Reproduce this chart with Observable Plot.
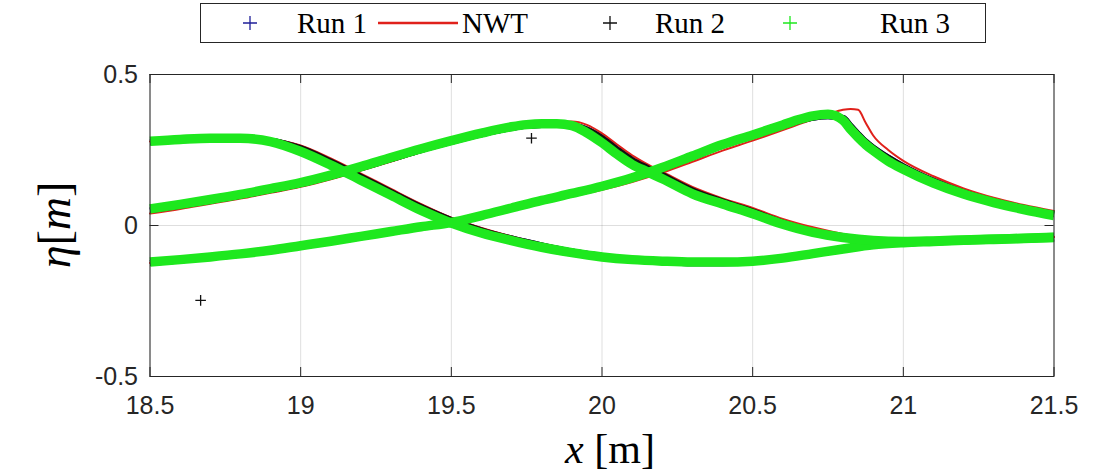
<!DOCTYPE html>
<html><head><meta charset="utf-8">
<script src="https://cdn.jsdelivr.net/npm/d3@7"></script>
<script src="https://cdn.jsdelivr.net/npm/@observablehq/plot@0.6"></script>
<style>
body{margin:0;background:#fff;}
#wrap{width:1107px;height:476px;position:relative;overflow:hidden;background:#fff;}
#legend{width:1107px;height:50px;}
#chart svg{display:block;}
</style></head><body><div id="wrap"><div id="legend"></div><div id="chart"></div></div>
<script>
// ---- data ----
const xTicks = [18.5, 19, 19.5, 20, 20.5, 21, 21.5];
const yTicks = [-0.5, 0, 0.5];

// wave A (crest near 18.75)
const xA = [18.5,18.6,18.7,18.8,18.9,19.0,19.1,19.2,19.3,19.4,19.5,19.6,19.7,19.8,19.9,20.0,20.1,20.2,20.3,20.4,20.5,20.6,20.7,20.8,20.9,21.0,21.1,21.2,21.3,21.4,21.5];
const nwtA  = [0.278,0.284,0.288,0.290,0.286,0.265,0.222,0.172,0.121,0.071,0.026,-0.008,-0.036,-0.060,-0.080,-0.096,-0.107,-0.114,-0.118,-0.119,-0.117,-0.107,-0.092,-0.077,-0.063,-0.056,-0.052,-0.048,-0.045,-0.042,-0.039];
const run2A = [0.276,0.282,0.286,0.287,0.281,0.256,0.212,0.162,0.111,0.061,0.018,-0.016,-0.043,-0.066,-0.086,-0.101,-0.114,-0.121,-0.125,-0.125,-0.121,-0.110,-0.095,-0.080,-0.067,-0.060,-0.056,-0.052,-0.049,-0.046,-0.043];
const run3A = [0.279,0.285,0.289,0.289,0.278,0.245,0.200,0.150,0.100,0.050,0.008,-0.025,-0.050,-0.072,-0.090,-0.104,-0.113,-0.118,-0.121,-0.121,-0.118,-0.108,-0.093,-0.078,-0.064,-0.057,-0.053,-0.049,-0.046,-0.043,-0.040];

// wave B (crest near 19.85)
const xB = [18.5,18.6,18.7,18.8,18.9,19.0,19.1,19.2,19.3,19.4,19.5,19.6,19.7,19.75,19.8,19.85,19.9,19.95,20.0,20.05,20.1,20.15,20.2,20.3,20.4,20.5,20.6,20.7,20.8,20.9,21.0,21.1,21.2,21.3,21.4,21.5];
const nwtB  = [0.040,0.055,0.072,0.089,0.108,0.128,0.153,0.182,0.212,0.243,0.272,0.300,0.324,0.333,0.339,0.343,0.344,0.333,0.305,0.268,0.232,0.203,0.178,0.128,0.090,0.058,0.022,-0.006,-0.028,-0.043,-0.049,-0.049,-0.046,-0.043,-0.040,-0.037];
const run2B = [0.050,0.065,0.081,0.098,0.117,0.137,0.162,0.190,0.220,0.250,0.277,0.302,0.323,0.330,0.333,0.334,0.332,0.318,0.290,0.252,0.217,0.191,0.167,0.117,0.080,0.047,0.010,-0.019,-0.036,-0.048,-0.054,-0.053,-0.051,-0.048,-0.045,-0.042];
const run3B = [0.055,0.070,0.086,0.103,0.122,0.142,0.167,0.195,0.225,0.254,0.281,0.306,0.327,0.334,0.337,0.337,0.331,0.307,0.274,0.236,0.202,0.178,0.155,0.105,0.071,0.039,0.004,-0.023,-0.040,-0.050,-0.053,-0.051,-0.048,-0.045,-0.042,-0.039];

// wave C (crest near 20.75)
const xC = [18.5,18.6,18.7,18.8,18.9,19.0,19.1,19.2,19.3,19.4,19.5,19.6,19.7,19.8,19.9,20.0,20.1,20.2,20.3,20.4,20.5,20.6,20.65,20.7,20.75,20.8,20.825,20.85,20.875,20.9,20.95,21.0,21.1,21.2,21.3,21.4,21.5];
const nwtC  = [-0.124,-0.116,-0.107,-0.097,-0.085,-0.071,-0.056,-0.040,-0.024,-0.009,0.004,0.026,0.050,0.074,0.096,0.118,0.144,0.175,0.211,0.248,0.281,0.316,0.334,0.352,0.368,0.383,0.386,0.383,0.340,0.298,0.250,0.214,0.163,0.123,0.092,0.068,0.048];
const run2C = [-0.124,-0.116,-0.107,-0.097,-0.085,-0.070,-0.055,-0.039,-0.023,-0.007,0.007,0.030,0.055,0.080,0.103,0.127,0.155,0.188,0.226,0.264,0.296,0.329,0.345,0.357,0.362,0.356,0.330,0.303,0.278,0.258,0.225,0.196,0.148,0.110,0.081,0.058,0.038];
const run3C = [-0.121,-0.113,-0.104,-0.094,-0.082,-0.067,-0.052,-0.036,-0.020,-0.004,0.010,0.033,0.058,0.083,0.106,0.130,0.158,0.192,0.230,0.268,0.300,0.333,0.350,0.363,0.368,0.348,0.318,0.292,0.268,0.248,0.213,0.186,0.140,0.104,0.076,0.053,0.033];

// Run 1 lies entirely beneath Runs 2 and 3 in the reference
const run1A = run2A, run1B = run2B, run1C = run2C;

// isolated Run 2 samples
const run2OutX = [18.668, 19.766];
const run2OutY = [-0.248, 0.289];

const seriesNames = ["Run 1", "NWT", "Run 2", "Run 3"];
const seriesColors = ["#1f1f99", "#e0211b", "#111111", "#1ee81e"];

// ---- build tables ----
const rows = (xs, ys, series, wave) => xs.map((x, i) => ({x, y: ys[i], series, wave}));
const run1 = [...rows(xA, run1A, "Run 1", "A"), ...rows(xB, run1B, "Run 1", "B"), ...rows(xC, run1C, "Run 1", "C")];
const nwt  = [...rows(xA, nwtA, "NWT", "A"), ...rows(xB, nwtB, "NWT", "B"), ...rows(xC, nwtC, "NWT", "C")];
const run2 = [...rows(xA, run2A, "Run 2", "A"), ...rows(xB, run2B, "Run 2", "B"), ...rows(xC, run2C, "Run 2", "C")];
const run3 = [...rows(xA, run3A, "Run 3", "A"), ...rows(xB, run3B, "Run 3", "B"), ...rows(xC, run3C, "Run 3", "C")];
const run2Out = rows(run2OutX, run2OutY, "Run 2", "out");

const axisColor = "#262626";
const tickFont = "'Liberation Sans', Arial, Helvetica, sans-serif";
const W = 1107, H = 426, mL = 149.5, mR = 53.5, mT = 24, mB = 100;
const iw = W - mL - mR, ih = H - mT - mB, tl = 9;

const plot = Plot.plot({
  width: W, height: H,
  marginLeft: mL, marginRight: mR, marginTop: mT, marginBottom: mB,
  style: {fontFamily: tickFont, fontSize: "25px", color: axisColor, background: "#fff"},
  x: {domain: [18.5, 21.5]},
  y: {domain: [-0.5, 0.5]},
  marks: [
    Plot.gridX(xTicks, {stroke: "#000", strokeOpacity: 0.13, strokeWidth: 1}),
    Plot.gridY([0], {stroke: "#000", strokeOpacity: 0.13, strokeWidth: 1}),
    Plot.line(run1, {x: "x", y: "y", z: "wave", stroke: seriesColors[0], strokeWidth: 6, curve: "monotone-x", strokeLinecap: "butt"}),
    Plot.line(nwt, {x: "x", y: "y", z: "wave", stroke: seriesColors[1], strokeWidth: 2, curve: "monotone-x"}),
    Plot.line(run2, {x: "x", y: "y", z: "wave", stroke: seriesColors[2], strokeWidth: 6, curve: "monotone-x", strokeLinecap: "butt"}),
    Plot.dot(run2Out, {x: "x", y: "y", symbol: "plus", r: 3.5, stroke: seriesColors[2], strokeWidth: 1.3}),
    Plot.line(run3, {x: "x", y: "y", z: "wave", stroke: seriesColors[3], strokeWidth: 9.5, curve: "monotone-x", strokeLinecap: "butt"}),
    Plot.frame({stroke: axisColor, strokeWidth: 1}),
    Plot.tickX(xTicks, {x: d => d, stroke: axisColor, insetTop: ih - tl}),
    Plot.tickX(xTicks, {x: d => d, stroke: axisColor, insetBottom: ih - tl}),
    Plot.tickY(yTicks, {y: d => d, stroke: axisColor, insetRight: iw - tl}),
    Plot.tickY(yTicks, {y: d => d, stroke: axisColor, insetLeft: iw - tl}),
    Plot.axisX(xTicks, {tickSize: 0, tickPadding: 20, tickFormat: d => String(d), fill: axisColor, label: null}),
    Plot.axisY(yTicks, {tickSize: 0, tickPadding: 12, tickFormat: d => String(d), fill: axisColor, label: null})
  ]
});
document.getElementById("chart").appendChild(plot);

// axis titles (math-style: italic symbols, upright brackets)
const svg = d3.select(plot);
const serif = "'Liberation Serif', 'DejaVu Serif', 'Times New Roman', serif";
const yl = svg.append("text")
  .attr("transform", `translate(70, ${mT + ih / 2}) rotate(-90)`)
  .attr("text-anchor", "middle").attr("font-family", serif).attr("font-size", 46).attr("fill", "#000");
yl.append("tspan").attr("font-style", "italic").text("η");
yl.append("tspan").text("[");
yl.append("tspan").attr("font-style", "italic").text("m");
yl.append("tspan").text("]");
const xl = svg.append("text")
  .attr("x", 610).attr("y", 413)
  .attr("text-anchor", "middle").attr("font-family", serif).attr("font-size", 42).attr("fill", "#000");
xl.append("tspan").attr("font-style", "italic").text("x");
xl.append("tspan").text(" [m]");

// legend (above the plot)
const legendLayout = [{m: 250, t: 297}, {m1: 378, m2: 458, t: 462}, {m: 610, t: 655}, {m: 790, t: 880}];
const lg = d3.select("#legend").append("svg").attr("width", 1107).attr("height", 50);
lg.append("rect").attr("x", 200.5).attr("y", 3.5).attr("width", 785).attr("height", 39)
  .attr("fill", "#fff").attr("stroke", axisColor).attr("stroke-width", 1);
seriesNames.forEach((name, i) => {
  const L = legendLayout[i], c = seriesColors[i], cy = 23;
  if (name === "NWT") {
    lg.append("line").attr("x1", L.m1).attr("x2", L.m2).attr("y1", cy).attr("y2", cy)
      .attr("stroke", c).attr("stroke-width", 2.5);
  } else {
    lg.append("path").attr("d", `M${L.m - 7},${cy}H${L.m + 7}M${L.m},${cy - 7}V${cy + 7}`)
      .attr("stroke", c).attr("stroke-width", 1.3).attr("fill", "none");
  }
  lg.append("text").attr("x", L.t).attr("y", 33).attr("font-family", serif)
    .attr("font-size", 29).attr("fill", "#000").text(name);
});
</script></body></html>
